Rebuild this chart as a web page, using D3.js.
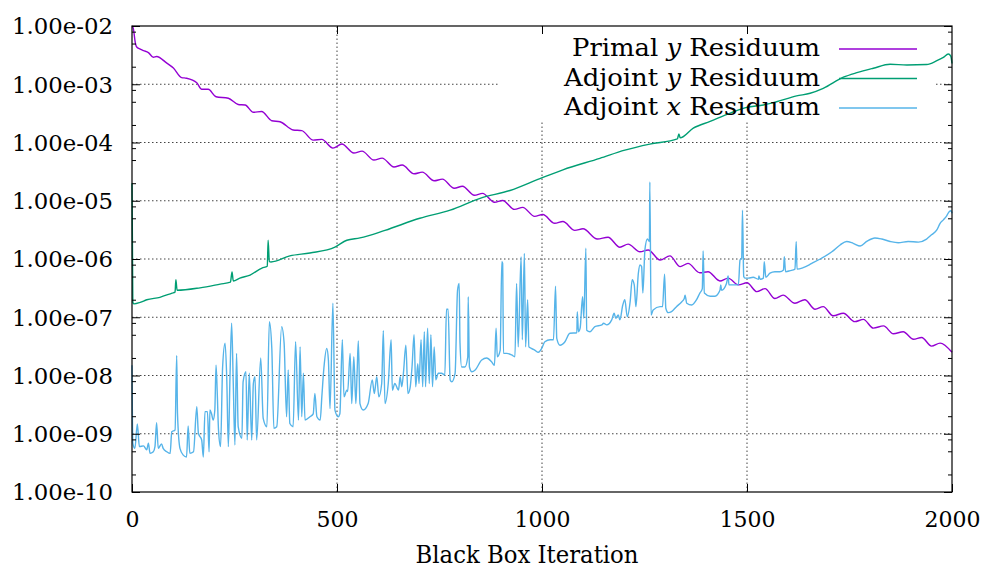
<!DOCTYPE html>
<html><head><meta charset="utf-8">
<script src="https://cdn.jsdelivr.net/npm/d3@7"></script>
<style>
body{margin:0;background:#fff}
svg{display:block}
text{font-family:"DejaVu Serif","Liberation Serif",serif;fill:#000}
</style>
</head><body>
<svg id="chart" width="987" height="581"></svg>
<script>
// ---------------- data ----------------
const xTickValues = [0, 500, 1000, 1500, 2000];
const xTickLabels = ["0", "500", "1000", "1500", "2000"];
const yTickValues = [1e-2, 1e-3, 1e-4, 1e-5, 1e-6, 1e-7, 1e-8, 1e-9, 1e-10];
const yTickLabels = ["1.00e-02","1.00e-03","1.00e-04","1.00e-05","1.00e-06","1.00e-07","1.00e-08","1.00e-09","1.00e-10"];
const xAxisTitle = "Black Box Iteration";
const legendPre  = ["Primal ", "Adjoint ", "Adjoint "];
const legendVar  = ["y", "y", "x"];
const legendPost = [" Residuum", " Residuum", " Residuum"];

// [iteration, residual]
const primalY = [
[0,1.0e-2],[3,9.2e-3],[8,5.2e-3],[11,4.4e-3],[20,4.0e-3],[28,3.77e-3],[40,3.5e-3],[52,2.9e-3],[60,3.0e-3],
[85,2.3e-3],[101,1.9e-3],[121,1.3e-3],[133,1.27e-3],[158,1.06e-3],[170,8.2e-4],[186,8.2e-4],[205,6.1e-4],
[235,5.75e-4],[259,4.5e-4],[276,4.4e-4],[296,3.3e-4],[316,3.4e-4],[341,2.36e-4],[361,2.27e-4],[393,1.64e-4],
[414,1.6e-4],[442,1.1e-4],[463,1.13e-4],[490,8.0e-5],[512,9.4e-5],[541,6.6e-5],[561,7.1e-5],[590,5.0e-5],
[610,5.4e-5],[639,3.8e-5],[659,4.1e-5],[688,2.9e-5],[708,3.1e-5],[737,2.2e-5],[757,2.35e-5],[786,1.64e-5],
[806,1.77e-5],[835,1.24e-5],[855,1.34e-5],[884,9.4e-6],[904,1.01e-5],[933,7.1e-6],[953,7.7e-6],[982,5.4e-6],
[1002,5.8e-6],[1031,4.1e-6],[1051,4.4e-6],[1080,3.1e-6],[1100,3.3e-6],[1135,2.2e-6],[1161,2.36e-6],
[1190,1.59e-6],[1210,1.8e-6],[1239,1.33e-6],[1259,1.43e-6],[1288,9.6e-7],[1312,1.13e-6],[1337,7.4e-7],
[1356,8.4e-7],[1385,5.8e-7],[1405,6.05e-7],[1434,4.2e-7],[1454,4.7e-7],[1479,3.6e-7],[1500,3.9e-7],
[1524,2.75e-7],[1544,3.1e-7],[1568,2.1e-7],[1588,2.4e-7],[1617,1.74e-7],[1641,2.0e-7],[1666,1.37e-7],
[1686,1.52e-7],[1710,1.06e-7],[1735,1.17e-7],[1763,8.4e-8],[1784,9.2e-8],[1808,6.5e-8],[1833,7.1e-8],
[1857,5.2e-8],[1881,5.65e-8],[1906,4.2e-8],[1926,4.5e-8],[1950,3.2e-8],[1971,3.6e-8],[2000,2.5e-8]
];

const adjointY = [
[0,2.0e-5],[2,1.8e-7],[5,1.7e-7],[20,1.8e-7],[36,2.0e-7],[68,2.2e-7],[98,2.6e-7],[105,2.7e-7],[107,4.4e-7],
[110,2.9e-7],[166,3.2e-7],[215,3.7e-7],[240,4.0e-7],[244,6.0e-7],[247,4.2e-7],[263,4.7e-7],[288,5.3e-7],
[317,7.0e-7],[330,7.5e-7],[332,2.1e-6],[335,9.0e-7],[339,8.9e-7],[385,1.13e-6],[434,1.27e-6],[495,1.6e-6],
[524,2.1e-6],[556,2.3e-6],[617,3.1e-6],[702,5.0e-6],[776,6.9e-6],[849,1.1e-5],[922,1.5e-5],[995,2.4e-5],
[1051,3.4e-5],[1141,5.35e-5],[1202,7.4e-5],[1263,9.4e-5],[1330,1.15e-4],[1334,1.4e-4],[1337,1.2e-4],
[1369,1.76e-4],[1410,2.3e-4],[1459,3.2e-4],[1499,4.0e-4],[1540,4.4e-4],[1572,5.0e-4],[1621,6.3e-4],
[1654,7.0e-4],[1686,8.5e-4],[1735,1.32e-3],[1768,1.58e-3],[1808,1.88e-3],[1849,2.2e-3],[1890,2.14e-3],
[1938,2.18e-3],[1963,2.54e-3],[1979,2.9e-3],[1991,3.3e-3],[1997,3.05e-3],[2000,2.27e-3]
];

const adjointX = [
[0,1.5e-8],[2,6.9e-10],[7,5.6e-10],[13,1.47e-9],[18,6.0e-10],[28,6.2e-10],[36,5.3e-10],[40,6.9e-10],
[44,4.6e-10],[52,4.9e-10],[56,6.0e-10],[60,1.55e-9],[64,5.6e-10],[72,6.7e-10],[76,5.6e-10],[85,4.9e-10],
[93,4.6e-10],[97,1.08e-9],[105,1.16e-9],[109,2.2e-8],[111,2.2e-9],[117,5.6e-10],[125,4.3e-10],[133,4.0e-10],
[137,1.36e-9],[141,4.6e-10],[150,4.9e-10],[158,2.9e-9],[162,1.02e-9],[170,7.8e-10],[174,4.0e-10],[178,2.4e-9],
[184,2.4e-9],[188,4.9e-10],[190,2.55e-9],[194,2.2e-9],[198,1.72e-9],[202,2.55e-9],[205,1.5e-8],[208,4.9e-9],
[211,1.16e-9],[216,6.0e-10],[221,1.4e-8],[227,3.6e-8],[231,9.5e-9],[235,6.0e-10],[239,9.5e-9],[243,7.9e-8],
[247,7.3e-9],[251,6.4e-10],[255,2.4e-8],[259,1.32e-9],[268,8.35e-10],[271,7.8e-9],[278,1.16e-8],[281,7.8e-10],
[286,1.09e-8],[292,7.8e-10],[296,7.3e-9],[300,9.5e-9],[304,7.8e-10],[314,2.0e-8],[320,1.84e-9],[329,1.32e-9],
[335,8.4e-8],[341,2.9e-8],[346,1.24e-9],[353,1.32e-9],[365,6.9e-8],[371,3.6e-8],[377,1.96e-9],[381,1.24e-8],
[385,1.5e-9],[393,1.32e-9],[399,3.8e-8],[406,1.72e-9],[410,3.1e-8],[414,1.96e-9],[418,1.09e-8],[422,1.72e-9],
[434,1.96e-9],[442,2.2e-9],[446,4.9e-9],[451,1.96e-9],[459,1.72e-9],[463,4.3e-9],[468,1.33e-8],[475,2.9e-8],
[479,1.85e-8],[483,2.7e-9],[490,1.74e-7],[495,2.55e-9],[503,1.96e-9],[507,2.2e-9],[513,4.1e-8],[517,4.3e-9],
[524,5.6e-9],[526,5.3e-9],[532,2.4e-8],[536,3.3e-9],[541,2.1e-8],[546,3.3e-9],[549,1.09e-8],[552,3.9e-8],
[556,3.3e-9],[564,2.55e-9],[576,3.3e-9],[586,8.4e-9],[591,4.9e-9],[597,9.5e-9],[602,4.3e-9],[609,7.3e-9],
[613,5.9e-8],[617,3.3e-9],[625,7.3e-9],[632,4.1e-8],[635,5.6e-9],[641,7.3e-9],[650,5.6e-9],[654,9.5e-9],
[658,6.4e-9],[662,1.09e-8],[668,3.3e-8],[673,4.9e-9],[678,6.0e-9],[683,1.4e-8],[688,5.0e-8],[692,6.4e-9],
[697,1.6e-8],[700,7.3e-9],[705,4.1e-8],[709,6.4e-9],[713,5.65e-8],[716,6.4e-9],[721,6.5e-8],[725,7.3e-9],
[729,5.0e-8],[733,6.4e-9],[737,3.1e-8],[741,8.4e-9],[747,1.09e-8],[755,1.09e-8],[763,1.02e-8],[767,1.37e-7],
[771,1.37e-7],[776,8.4e-9],[780,7.8e-9],[788,1.09e-8],[794,2.9e-7],[798,3.8e-7],[800,3.6e-8],[804,1.4e-8],
[812,1.4e-8],[819,2.1e-8],[820,2.25e-7],[823,1.4e-8],[829,1.16e-8],[837,1.24e-8],[853,1.85e-8],[865,2.0e-8],
[877,1.72e-8],[884,1.5e-8],[888,6.5e-8],[891,2.1e-8],[898,2.7e-8],[902,9.0e-7],[904,8.4e-7],[906,2.4e-8],
[914,2.4e-8],[926,2.25e-8],[934,2.1e-8],[938,3.8e-7],[942,3.1e-8],[949,1.09e-6],[952,4.1e-8],[957,1.25e-6],
[960,3.1e-8],[965,2.0e-7],[968,3.1e-8],[975,2.9e-8],[983,2.7e-8],[991,2.5e-8],[999,2.9e-8],[1007,3.8e-8],
[1020,4.1e-8],[1028,4.1e-8],[1033,3.4e-7],[1036,4.35e-8],[1044,3.3e-8],[1056,3.8e-8],[1068,5.3e-8],
[1085,5.4e-8],[1086,1.25e-7],[1089,5.65e-8],[1093,6.5e-8],[1099,2.25e-7],[1102,9.6e-8],[1107,1.53e-6],
[1109,6.0e-8],[1117,5.65e-8],[1129,6.9e-8],[1146,7.4e-8],[1150,7.9e-8],[1158,7.4e-8],[1170,9.0e-8],
[1176,1.17e-7],[1180,9.6e-8],[1186,1.09e-7],[1190,9.0e-8],[1197,1.62e-7],[1202,2.0e-7],[1208,1.02e-7],
[1215,1.85e-7],[1220,4.4e-7],[1225,3.6e-7],[1229,1.52e-7],[1235,5.7e-7],[1239,7.9e-7],[1243,7.4e-7],
[1246,2.6e-7],[1251,1.43e-6],[1257,2.2e-6],[1262,2.0e-6],[1263,2.1e-5],[1266,1.09e-7],[1271,1.33e-7],
[1288,1.52e-7],[1294,1.52e-7],[1299,5.5e-7],[1302,1.43e-7],[1308,1.2e-7],[1316,1.25e-7],[1328,1.52e-7],
[1341,1.85e-7],[1347,2.1e-7],[1349,2.4e-7],[1353,1.74e-7],[1365,1.62e-7],[1377,2.0e-7],[1385,2.6e-7],
[1391,3.1e-7],[1393,1.37e-6],[1396,2.6e-7],[1410,2.3e-7],[1422,2.3e-7],[1434,2.9e-7],[1436,3.6e-7],
[1438,2.9e-7],[1450,3.8e-7],[1454,5.1e-7],[1456,3.6e-7],[1466,3.6e-7],[1479,3.6e-7],[1483,9.6e-7],
[1487,1.03e-6],[1489,6.9e-6],[1492,5.0e-7],[1495,4.7e-7],[1503,4.7e-7],[1515,4.85e-7],[1528,4.5e-7],
[1529,5.1e-7],[1532,4.5e-7],[1540,4.7e-7],[1542,9.0e-7],[1546,4.85e-7],[1556,5.7e-7],[1568,6.05e-7],
[1580,6.05e-7],[1589,6.5e-7],[1591,1.09e-6],[1594,6.05e-7],[1605,6.3e-7],[1617,6.7e-7],[1620,2.0e-6],
[1622,6.7e-7],[1637,7.1e-7],[1658,8.4e-7],[1682,1.03e-6],[1707,1.33e-6],[1727,1.74e-6],[1743,2.0e-6],
[1759,1.86e-6],[1776,1.67e-6],[1792,2.0e-6],[1812,2.3e-6],[1829,2.2e-6],[1849,2.0e-6],[1869,1.9e-6],
[1893,2.0e-6],[1918,1.95e-6],[1938,2.2e-6],[1950,2.6e-6],[1963,3.15e-6],[1971,4.1e-6],[1979,4.7e-6],
[1987,5.5e-6],[1993,6.5e-6],[1998,6.75e-6],[2000,6.1e-6]
];

const seriesData   = [primalY, adjointY, adjointX];
const seriesColors = ["#9400d3", "#009e73", "#56b4e9"];

// ---------------- layout ----------------
const W = 987, H = 581;
const M = {left:132, right:35, top:26, bottom:89};
const FONT = '"DejaVu Serif","Liberation Serif",serif';
const svg = d3.select("#chart");

const x = d3.scaleLinear().domain([0, 2000]).range([M.left, W - M.right]);
const y = d3.scaleLog().domain([1e-10, 1e-2]).range([H - M.bottom, M.top]);
const x0 = x.range()[0], x1 = x.range()[1], y0 = y.range()[0], y1 = y.range()[1];

// grid
const grid = svg.append("g").attr("stroke", "#444").attr("stroke-width", 1).attr("stroke-dasharray", "1.5,2.5");
grid.selectAll("line.h").data(yTickValues.slice(1, -1)).join("line")
  .attr("x1", x0).attr("x2", x1).attr("y1", d => y(d)).attr("y2", d => y(d));
grid.selectAll("line.v").data(xTickValues.slice(1, -1)).join("line")
  .attr("y1", y0).attr("y2", y1).attr("x1", d => x(d)).attr("x2", d => x(d));

// legend background (hides grid only)
svg.append("rect").attr("x", 500).attr("y", y1 + 1).attr("width", 435).attr("height", 94).attr("fill", "#fff");

// minor tick values (log 2,5,8)
const minorTicks = [];
for (let e = -10; e < -2; e++) [2, 5, 8].forEach(k => minorTicks.push(k * Math.pow(10, e)));

// series
const line = d3.line().x(d => x(d[0])).y(d => y(d[1])).curve(d3.curveMonotoneX);
seriesData.forEach((s, i) => {
  svg.append("path").datum(s).attr("d", line)
    .attr("fill", "none").attr("stroke", seriesColors[i]).attr("stroke-width", 1.4)
    .attr("stroke-linejoin", "round");
});

// axes
function styleAxis(g) {
  g.select(".domain").remove();
  g.selectAll("line").attr("stroke", "#000");
  g.attr("font-family", FONT);
}
svg.append("g").attr("transform", `translate(0,${y0})`)
  .call(d3.axisBottom(x).tickValues(xTickValues).tickFormat((d, i) => xTickLabels[i])
    .tickSizeInner(-8).tickSizeOuter(0).tickPadding(19))
  .call(styleAxis)
  .call(g => g.selectAll("text").attr("font-size", 22).style("font-family", FONT));
svg.append("g").attr("transform", `translate(0,${y1})`)
  .call(d3.axisTop(x).tickValues(xTickValues.slice(1, -1)).tickFormat("").tickSizeInner(-8).tickSizeOuter(0))
  .call(styleAxis);
svg.append("g").attr("transform", `translate(${x0},0)`)
  .call(d3.axisLeft(y).tickValues(yTickValues).tickFormat((d, i) => yTickLabels[i])
    .tickSizeInner(-8).tickSizeOuter(0).tickPadding(19))
  .call(styleAxis)
  .call(g => g.selectAll("text").attr("font-size", 22).style("font-family", FONT)
    .attr("dy", "0.36em").attr("textLength", 101).attr("lengthAdjust", "spacingAndGlyphs"));
svg.append("g").attr("transform", `translate(${x1},0)`)
  .call(d3.axisRight(y).tickValues(yTickValues).tickFormat("").tickSizeInner(-8).tickSizeOuter(0))
  .call(styleAxis);
svg.append("g").attr("transform", `translate(${x0},0)`)
  .call(d3.axisLeft(y).tickValues(minorTicks).tickFormat("").tickSizeInner(-4).tickSizeOuter(0))
  .call(styleAxis);
svg.append("g").attr("transform", `translate(${x1},0)`)
  .call(d3.axisRight(y).tickValues(minorTicks).tickFormat("").tickSizeInner(-4).tickSizeOuter(0))
  .call(styleAxis);

// frame
svg.append("rect").attr("x", x0).attr("y", y1).attr("width", x1 - x0).attr("height", y0 - y1)
  .attr("fill", "none").attr("stroke", "#000").attr("stroke-width", 1.2);

// x axis title
svg.append("text").attr("x", 527).attr("y", 563).attr("text-anchor", "middle").style("font-family", FONT)
  .attr("font-size", 24).attr("textLength", 223).attr("lengthAdjust", "spacingAndGlyphs").text(xAxisTitle);

// legend
const legendY = [49, 78.5, 108];
const legendW = [248, 256, 256];
legendPre.forEach((p, i) => {
  const t = svg.append("text").attr("x", 820).attr("y", legendY[i] + 7).attr("text-anchor", "end")
    .style("font-family", FONT)
    .attr("font-size", 24).attr("textLength", legendW[i]).attr("lengthAdjust", "spacingAndGlyphs");
  t.append("tspan").text(p);
  t.append("tspan").attr("font-style", "italic").text(legendVar[i]);
  t.append("tspan").text(legendPost[i]);
  svg.append("line").attr("x1", 839).attr("x2", 917).attr("y1", legendY[i]).attr("y2", legendY[i])
    .attr("stroke", seriesColors[i]).attr("stroke-width", 1.4);
});
</script>
</body></html>
